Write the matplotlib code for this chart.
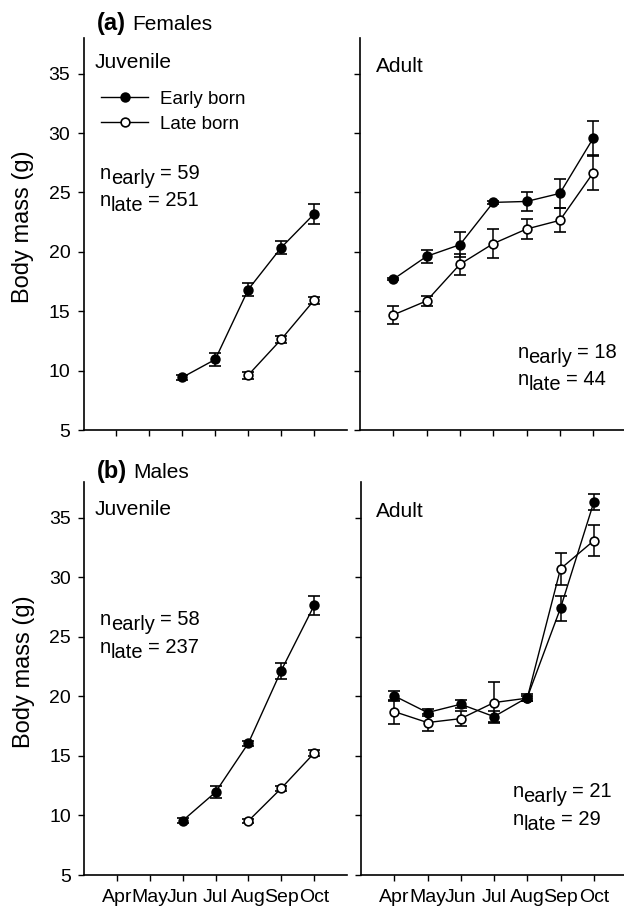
import matplotlib
matplotlib.use('Agg')
import matplotlib.pyplot as plt
from matplotlib.lines import Line2D
import numpy as np

plt.rcParams['font.family'] = ['Liberation Sans', 'DejaVu Sans']

months = ['Apr', 'May', 'Jun', 'Jul', 'Aug', 'Sep', 'Oct']
mx = np.arange(1, 8)

# females, juveniles
fj_early = [9.43, 10.94, 16.82, 20.35, 23.18]
fj_early_err = [0.22, 0.56, 0.53, 0.53, 0.84]
fj_late = [9.62, 12.62, 15.92]
fj_late_err = [0.3, 0.28, 0.3]
# females, adults
fa_early = [17.69, 19.62, 20.6, 24.16, 24.24, 24.92, 29.56]
fa_early_err = [0.1, 0.56, 1.05, 0.1, 0.8, 1.22, 1.48]
fa_late = [14.69, 15.87, 18.95, 20.69, 21.92, 22.65, 26.65]
fa_late_err = [0.74, 0.39, 0.88, 1.2, 0.88, 1.02, 1.46]
# males, juveniles
mj_early = [9.56, 11.95, 16.07, 22.17, 27.63]
mj_early_err = [0.22, 0.49, 0.2, 0.67, 0.8]
mj_late = [9.54, 12.28, 15.23]
mj_late_err = [0.15, 0.2, 0.25]
# males, adults
ma_early = [20.04, 18.64, 19.34, 18.3, 19.9, 27.41, 36.29]
ma_early_err = [0.4, 0.3, 0.35, 0.49, 0.28, 1.05, 0.67]
ma_late = [18.72, 17.8, 18.13, 19.48, 19.85, 30.71, 33.07]
ma_late_err = [1.0, 0.7, 0.63, 1.7, 0.2, 1.34, 1.3]

W, H = 624, 913
fig = plt.figure(figsize=(W / 100, H / 100), dpi=100)


def px_axes(x0, x1, ytop, ybot):
    return fig.add_axes([x0 / W, 1 - ybot / H, (x1 - x0) / W, (ybot - ytop) / H])


ax_fj = px_axes(83.5, 347, 38, 430)
ax_fa = px_axes(360, 626.5, 38, 430)
ax_mj = px_axes(84, 347, 482, 875)
ax_ma = px_axes(361, 627, 482, 875)

FS_TICK = 14
FS_TXT = 14.5


def style(ax, xlabels, ylabels):
    ax.set_xlim(0, 8)
    ax.set_ylim(5, 38)
    ax.set_xticks(mx)
    ax.set_yticks([5, 10, 15, 20, 25, 30, 35])
    for s in ['top', 'right']:
        ax.spines[s].set_visible(False)
    for s in ['left', 'bottom']:
        ax.spines[s].set_linewidth(1.2)
    ax.tick_params(direction='out', length=4, width=1.0, labelsize=FS_TICK)
    ax.tick_params(axis='x', pad=6)
    ax.tick_params(axis='y', pad=5.5)
    if xlabels:
        ax.set_xticklabels(months)
    else:
        ax.set_xticklabels([])
    if ylabels:
        ax.set_ylabel('Body mass (g)', fontsize=17)
        ax.yaxis.set_label_coords(-0.188, 0.518)
    else:
        ax.set_yticklabels([])


def series(ax, x, y, e, filled):
    ax.errorbar(x, y, yerr=e, color='black', lw=1.0, elinewidth=1.1,
                capsize=4.4, capthick=1.4, marker='o', ms=6.3,
                mfc='black' if filled else 'white', mec='black', mew=1.2,
                zorder=3 if filled else 2)


def ntext(ax, x, y, sub, val):
    t1 = ax.text(x, y, 'n', transform=ax.transAxes, fontsize=FS_TXT, va='baseline')
    t2 = ax.annotate(sub, xy=(1, y), xycoords=(t1, ax.transAxes), xytext=(-0.2, -3.8),
                     textcoords='offset points', fontsize=FS_TXT, va='baseline')
    ax.annotate('= ' + val, xy=(1, y), xycoords=(t2, ax.transAxes), xytext=(3.5, 0),
                textcoords='offset points', fontsize=FS_TXT, va='baseline')


def panel_title(ax, x, y, tag, name):
    t = ax.text(x, y, tag, transform=ax.transAxes, fontsize=17, fontweight='bold',
                va='baseline')
    ax.annotate(name, xy=(1, y), xycoords=(t, ax.transAxes), xytext=(4.5, 0),
                textcoords='offset points', fontsize=15, va='baseline')


# (a) females
series(ax_fj, mx[4:], fj_late, fj_late_err, False)
series(ax_fj, mx[2:], fj_early, fj_early_err, True)
style(ax_fj, False, True)
handles = [Line2D([], [], color='black', lw=1.0, marker='o', ms=6.3, mfc='black', mec='black', mew=1.2),
           Line2D([], [], color='black', lw=1.0, marker='o', ms=6.3, mfc='white', mec='black', mew=1.2)]
ax_fj.legend(handles, ['Early born', 'Late born'], loc='upper left', bbox_to_anchor=(0.065, 0.866),
             frameon=False, fontsize=13.5, handlelength=2.55, handletextpad=0.6,
             labelspacing=0.42, borderpad=0, borderaxespad=0)
ax_fj.text(0.044, 0.923, 'Juvenile', transform=ax_fj.transAxes, fontsize=15, va='baseline')
ntext(ax_fj, 0.063, 0.640, 'early', '59')
ntext(ax_fj, 0.063, 0.571, 'late', '251')
panel_title(ax_fj, 0.051, 1.020, '(a)', 'Females')

series(ax_fa, mx, fa_late, fa_late_err, False)
series(ax_fa, mx, fa_early, fa_early_err, True)
style(ax_fa, False, False)
ax_fa.text(0.06, 0.914, 'Adult', transform=ax_fa.transAxes, fontsize=15, va='baseline')
ntext(ax_fa, 0.591, 0.184, 'early', '18')
ntext(ax_fa, 0.591, 0.115, 'late', '44')

# (b) males
series(ax_mj, mx[4:], mj_late, mj_late_err, False)
series(ax_mj, mx[2:], mj_early, mj_early_err, True)
style(ax_mj, True, True)
ax_mj.text(0.042, 0.916, 'Juvenile', transform=ax_mj.transAxes, fontsize=15, va='baseline')
ntext(ax_mj, 0.061, 0.636, 'early', '58')
ntext(ax_mj, 0.061, 0.565, 'late', '237')
panel_title(ax_mj, 0.049, 1.009, '(b)', 'Males')

series(ax_ma, mx, ma_late, ma_late_err, False)
series(ax_ma, mx, ma_early, ma_early_err, True)
style(ax_ma, True, False)
ax_ma.text(0.056, 0.912, 'Adult', transform=ax_ma.transAxes, fontsize=15, va='baseline')
ntext(ax_ma, 0.57, 0.198, 'early', '21')
ntext(ax_ma, 0.57, 0.127, 'late', '29')

fig.savefig('out.png', dpi=100)
